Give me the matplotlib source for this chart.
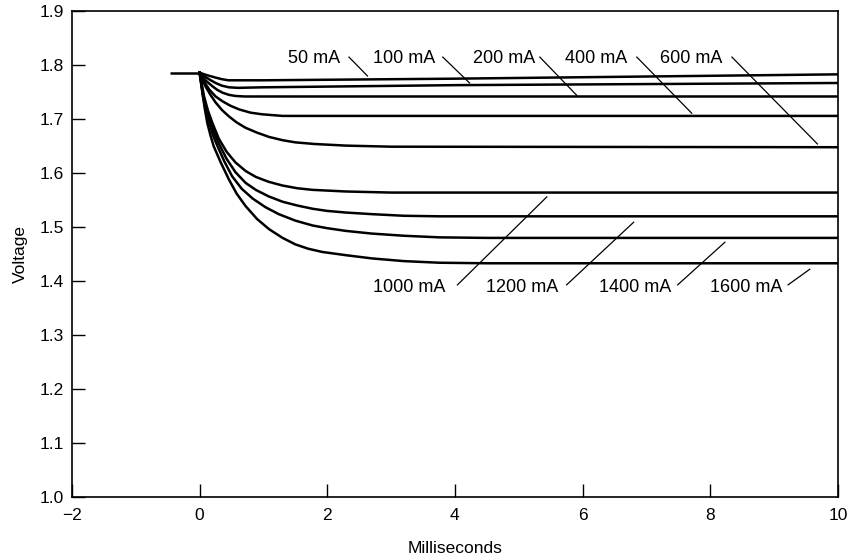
import matplotlib
matplotlib.use("Agg")
import matplotlib.pyplot as plt

plt.rcParams['font.family'] = ['Liberation Sans', 'DejaVu Sans']

# ---- данные ----
pre_t = [-0.47, 0.0]
pre_v = [1.786, 1.786]

t_50 = [0, 0.1, 0.25, 0.35, 0.45, 0.6, 1.0, 4.0, 10]
v_50 = [1.786, 1.782, 1.777, 1.774, 1.772, 1.772, 1.772, 1.775, 1.783]

t_100 = [0, 0.08, 0.16, 0.25, 0.35, 0.46, 0.6, 1.0, 4.0, 10]
v_100 = [1.786, 1.779, 1.773, 1.767, 1.762, 1.759, 1.758, 1.759, 1.763, 1.767]

t_200 = [0, 0.05, 0.1, 0.2, 0.28, 0.36, 0.46, 0.56, 0.7, 10]
v_200 = [1.786, 1.778, 1.771, 1.761, 1.754, 1.749, 1.745, 1.743, 1.742, 1.742]

t_400 = [0, 0.04, 0.09, 0.15, 0.25, 0.36, 0.48, 0.62, 0.8, 0.98, 1.3, 10]
v_400 = [1.786, 1.776, 1.766, 1.755, 1.742, 1.733, 1.725, 1.718, 1.712, 1.709, 1.706, 1.706]

t_600 = [0, 0.05, 0.1, 0.17, 0.25, 0.35, 0.46, 0.58, 0.72, 0.9, 1.09, 1.3, 1.5, 1.8, 2.29, 3.0, 10]
v_600 = [1.786, 1.771, 1.759, 1.745, 1.731, 1.717, 1.705, 1.694, 1.684, 1.675, 1.667, 1.661,
         1.657, 1.654, 1.651, 1.649, 1.648]

t_1000 = [0, 0.07, 0.13, 0.2, 0.3, 0.42, 0.56, 0.72, 0.88, 1.08, 1.3, 1.53, 1.77, 2.29, 3.0, 10]
v_1000 = [1.786, 1.742, 1.716, 1.693, 1.664, 1.640, 1.620, 1.604, 1.593, 1.584, 1.577, 1.572,
          1.569, 1.566, 1.564, 1.564]

t_1200 = [0, 0.06, 0.12, 0.18, 0.24, 0.3, 0.42, 0.56, 0.72, 0.88, 1.08, 1.3, 1.53, 1.77, 2.0,
          2.29, 2.7, 3.2, 3.76, 10]
v_1200 = [1.786, 1.742, 1.713, 1.692, 1.672, 1.655, 1.627, 1.602, 1.582, 1.569, 1.557, 1.547,
          1.540, 1.534, 1.530, 1.527, 1.524, 1.521, 1.520, 1.520]

t_1400 = [0, 0.05, 0.1, 0.15, 0.21, 0.28, 0.39, 0.51, 0.66, 0.83, 1.03, 1.24, 1.5, 1.77, 2.0,
          2.29, 2.7, 3.2, 3.76, 4.5, 10]
v_1400 = [1.786, 1.745, 1.715, 1.693, 1.670, 1.650, 1.621, 1.594, 1.571, 1.553, 1.537, 1.524,
          1.512, 1.503, 1.498, 1.493, 1.488, 1.484, 1.481, 1.480, 1.480]

t_1600 = [0, 0.04, 0.08, 0.12, 0.17, 0.22, 0.33, 0.46, 0.58, 0.72, 0.9, 1.09, 1.3, 1.5, 1.7,
          1.92, 2.29, 2.7, 3.2, 3.76, 4.5, 10]
v_1600 = [1.786, 1.752, 1.720, 1.693, 1.670, 1.650, 1.620, 1.588, 1.562, 1.539, 1.515, 1.496,
          1.480, 1.468, 1.460, 1.454, 1.448, 1.442, 1.437, 1.434, 1.433, 1.433]

curves = [(t_50, v_50), (t_100, v_100), (t_200, v_200), (t_400, v_400), (t_600, v_600),
          (t_1000, v_1000), (t_1200, v_1200), (t_1400, v_1400), (t_1600, v_1600)]

# подписи: текст, центр текста x, выноска (x0, x1, y1)
top_labels = ["50 mA", "100 mA", "200 mA", "400 mA", "600 mA"]
top_text_x = [1.79, 3.21, 4.77, 6.21, 7.70]
top_lead = [(2.34, 2.63, 1.780), (3.81, 4.23, 1.767), (5.33, 5.91, 1.744),
            (6.85, 7.71, 1.711), (8.34, 9.68, 1.654)]
top_y = 1.813
top_lead_y0 = 1.815

bot_labels = ["1000 mA", "1200 mA", "1400 mA", "1600 mA"]
bot_text_x = [3.29, 5.06, 6.82, 8.56]
bot_lead = [(4.04, 5.44, 1.556), (5.75, 6.80, 1.509), (7.49, 8.23, 1.472), (9.22, 9.56, 1.422)]
bot_y = 1.389
bot_lead_y0 = 1.393

# ---- рисунок ----
fig = plt.figure(figsize=(8.62, 5.6), dpi=100)
ax = fig.add_axes([0.0835, 0.1125, 0.8885, 0.8675])

ax.plot(pre_t, pre_v, color='black', lw=1.8, solid_capstyle='butt')
for t, v in curves:
    ax.plot(t, v, color='black', lw=1.8, solid_joinstyle='round')

for lab, tx, (x0, x1, y1) in zip(top_labels, top_text_x, top_lead):
    ax.text(tx, top_y, lab, ha='center', va='center', fontsize=13)
    ax.plot([x0, x1], [top_lead_y0, y1], color='black', lw=0.9)

for lab, tx, (x0, x1, y1) in zip(bot_labels, bot_text_x, bot_lead):
    ax.text(tx, bot_y, lab, ha='center', va='center', fontsize=13)
    ax.plot([x0, x1], [bot_lead_y0, y1], color='black', lw=0.9)

ax.set_xlim(-2, 10)
ax.set_ylim(1.0, 1.9)
ax.set_xticks([-2, 0, 2, 4, 6, 8, 10])
ax.set_yticks([1.0, 1.1, 1.2, 1.3, 1.4, 1.5, 1.6, 1.7, 1.8, 1.9])
ax.set_yticklabels([f"{v:.1f}" for v in ax.get_yticks()])
ax.tick_params(direction='in', length=9.5, width=1.0, labelsize=12.5, pad=8)
ax.tick_params(axis='y', pad=6)
for s in ax.spines.values():
    s.set_linewidth(1.2)

ax.set_xlabel("Milliseconds", fontsize=12.5, labelpad=13)
ax.set_ylabel("Voltage", fontsize=12.5, labelpad=8)

fig.savefig("out.png", dpi=100)
